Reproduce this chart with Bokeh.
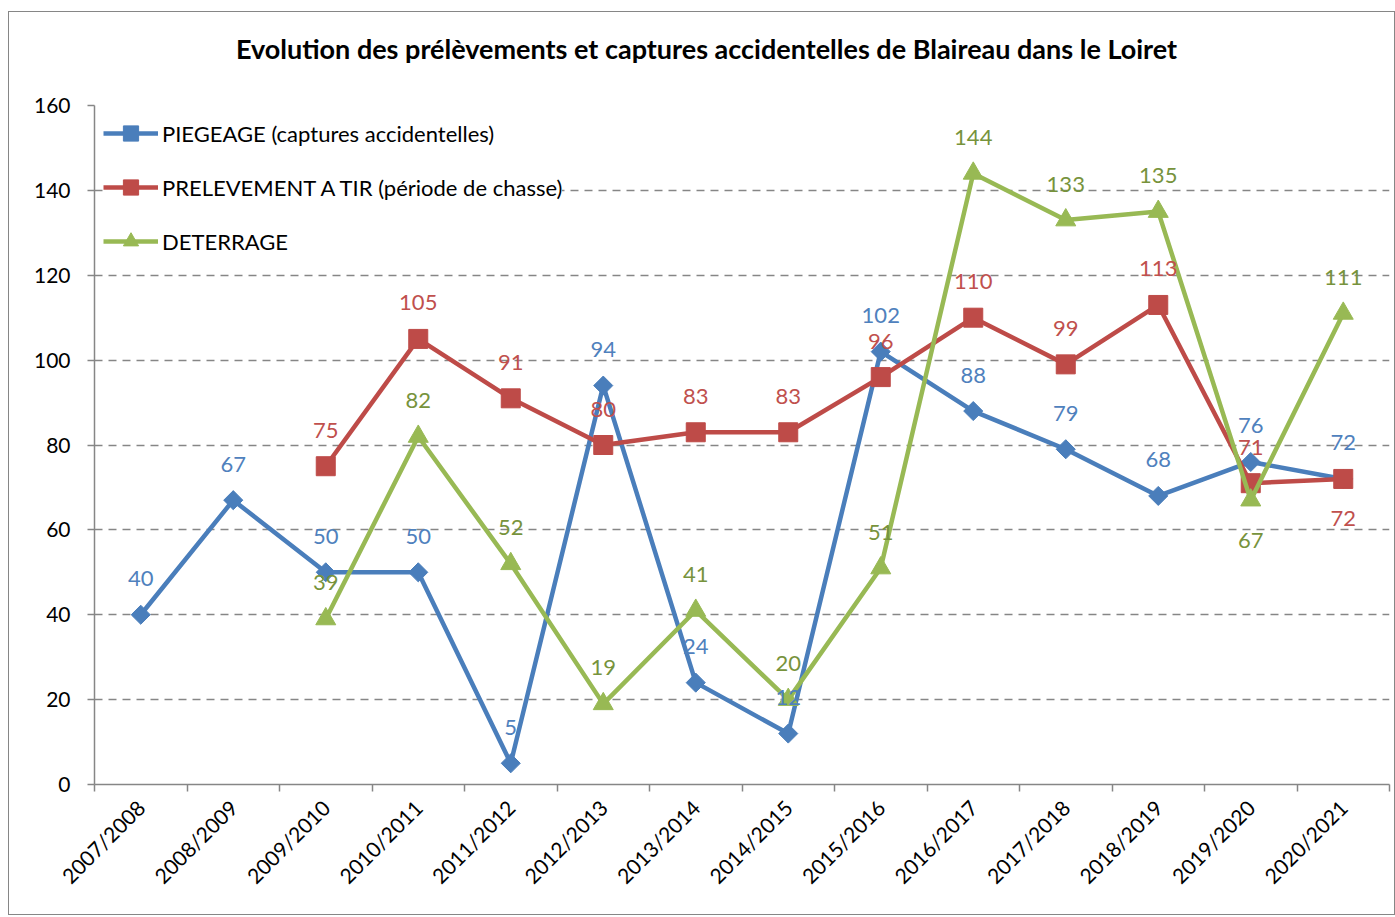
import math
from bokeh.plotting import figure
from bokeh.models import (FixedTicker, Legend, LegendItem, ColumnDataSource, Range1d, LinearAxis)
from bokeh.core.properties import value
from bokeh.embed import file_html
from bokeh.resources import INLINE

seasons = ["2007/2008", "2008/2009", "2009/2010", "2010/2011", "2011/2012", "2012/2013",
           "2013/2014", "2014/2015", "2015/2016", "2016/2017", "2017/2018", "2018/2019",
           "2019/2020", "2020/2021"]
piegeage = [40, 67, 50, 50, 5, 94, 24, 12, 102, 88, 79, 68, 76, 72]
prelevement = [None, None, 75, 105, 91, 80, 83, 83, 96, 110, 99, 113, 71, 72]
deterrage = [None, None, 39, 82, 52, 19, 41, 20, 51, 144, 133, 135, 67, 111]
y_ticks = [0, 20, 40, 60, 80, 100, 120, 140, 160]

title_text = "Evolution des prélèvements et captures accidentelles de Blaireau dans le Loiret"
series_names = ["PIEGEAGE (captures accidentelles)",
                "PRELEVEMENT A TIR (période de chasse)",
                "DETERRAGE"]
line_colors = ["#4A7EBB", "#BE4B48", "#98B954"]
label_colors = ["#4F81BD", "#C0504D", "#77933C"]
markers = ["square", "square", "triangle"]
marker_sizes = [13.5, 19, 20]
marker_angles = [math.pi / 4, 0, 0]
# labels placed below the point instead of above: (series index, season index)
below = {(1, 13), (2, 12)}

FONT = "Lato"

p = figure(width=1385, height=902, frame_width=1295, frame_height=679,
           min_border_left=85, min_border_right=5, min_border_top=93, min_border_bottom=130,
           x_range=Range1d(0, len(seasons)), y_range=Range1d(0, 160),
           output_backend="svg", toolbar_location=None)
p.styles = {"border": "1px solid #868686", "margin": "11px 0px 0px 8px"}
p.outline_line_color = None
p.background_fill_color = "white"
p.border_fill_color = "white"

# title drawn as the single label of an invisible top axis (centred on the whole chart)
title_pos = len(seasons) * (705 - 93) / 1295
title_axis = LinearAxis(ticker=FixedTicker(ticks=[title_pos], minor_ticks=[]),
                        major_label_overrides={title_pos: title_text},
                        axis_line_color=None, major_tick_line_color=None,
                        minor_tick_line_color=None, major_tick_out=0, major_tick_in=0,
                        minor_tick_out=0, minor_tick_in=0, major_label_standoff=41,
                        major_label_text_font=FONT, major_label_text_font_size="27px",
                        major_label_text_font_style="bold", major_label_text_color="black")
p.add_layout(title_axis, "above")

# bottom axis
centers = [i + 0.5 for i in range(len(seasons))]
xa = p.below[0]
xa.ticker = FixedTicker(ticks=centers, minor_ticks=list(range(len(seasons) + 1)))
xa.major_label_overrides = {c: s for c, s in zip(centers, seasons)}
xa.major_label_orientation = math.pi / 4
xa.major_tick_line_color = None
xa.minor_tick_line_color = "#868686"
xa.minor_tick_line_width = 1.5
xa.minor_tick_out = 7
xa.minor_tick_in = 0
xa.axis_line_color = "#868686"
xa.axis_line_width = 1.5
xa.major_label_text_font = FONT
xa.major_label_text_font_size = "21px"
xa.major_label_text_color = "black"
xa.major_label_standoff = 12

p.yaxis.ticker = FixedTicker(ticks=y_ticks, minor_ticks=[])
p.yaxis.axis_line_color = "#868686"
p.yaxis.axis_line_width = 1.5
p.yaxis.major_tick_line_color = "#868686"
p.yaxis.major_tick_line_width = 1.5
p.yaxis.major_tick_out = 7
p.yaxis.major_tick_in = 0
p.yaxis.minor_tick_line_color = None
p.yaxis.major_label_text_font = FONT
p.yaxis.major_label_text_font_size = "21px"
p.yaxis.major_label_text_color = "black"
p.yaxis.major_label_standoff = 17

p.xgrid.grid_line_color = None
p.ygrid.grid_line_color = "#868686"
p.ygrid.grid_line_width = 1.5
p.ygrid.grid_line_dash = "8 6"

legend_items = []
label_x, label_y, label_t, label_c, label_off = [], [], [], [], []
for si, vals in enumerate([piegeage, prelevement, deterrage]):
    xs = [centers[i] for i, v in enumerate(vals) if v is not None]
    ys = [v for v in vals if v is not None]
    src = ColumnDataSource(dict(x=xs, y=ys))
    ln = p.line("x", "y", source=src, line_color=line_colors[si], line_width=4.5)
    mk = p.scatter("x", "y", source=src, marker=markers[si], size=marker_sizes[si],
                   angle=marker_angles[si],
                   fill_color=line_colors[si], line_color=line_colors[si])
    legend_items.append(LegendItem(label=series_names[si], renderers=[ln, mk]))
    for i, v in enumerate(vals):
        if v is None:
            continue
        label_x.append(centers[i])
        label_y.append(v)
        label_t.append(str(v))
        label_c.append(label_colors[si])
        label_off.append(40 if (si, i) in below else -36)

lab_src = ColumnDataSource(dict(x=label_x, y=label_y, t=label_t, c=label_c, off=label_off))
p.text("x", "y", text="t", source=lab_src, text_color="c", y_offset="off",
       text_align="center", text_baseline="middle", text_font=value(FONT),
       text_font_size="22px")

legend = Legend(items=legend_items, location="top_left", margin=9, padding=5,
                glyph_width=55, glyph_height=38, label_height=38, spacing=16,
                label_standoff=4, label_text_font=FONT, label_text_font_size="22px",
                label_text_color="black", border_line_color=None,
                background_fill_color="white", background_fill_alpha=1.0)
p.add_layout(legend)

open("out.html", "w").write(file_html(p, INLINE))
